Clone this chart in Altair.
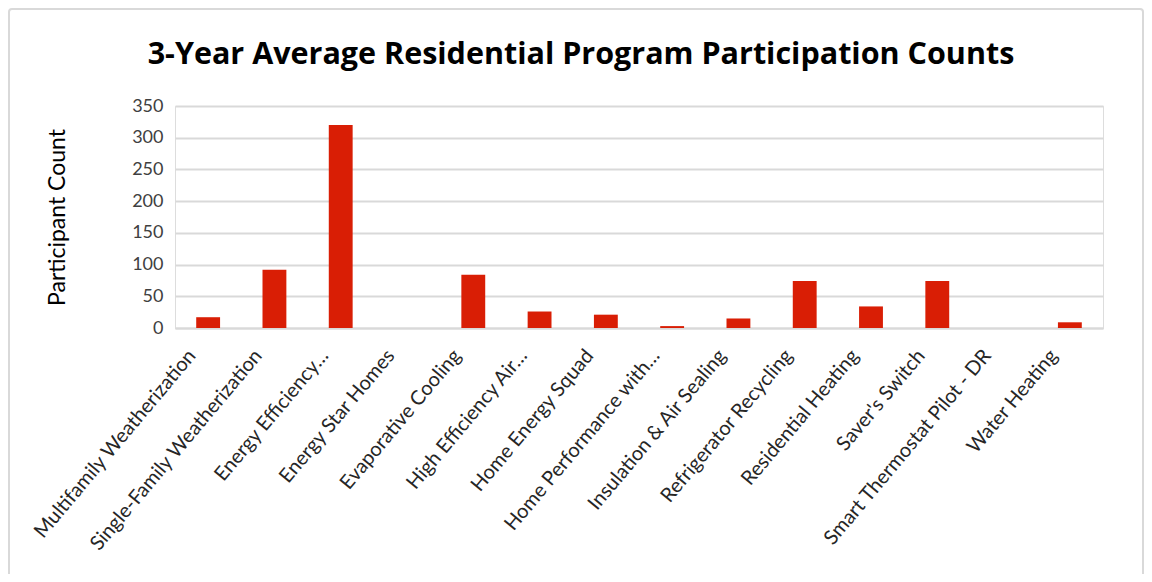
import altair as alt
import pandas as pd

programs = [
    "Multifamily Weatherization",
    "Single-Family Weatherization",
    "Energy Efficiency…",
    "Energy Star Homes",
    "Evaporative Cooling",
    "High Efficiency Air…",
    "Home Energy Squad",
    "Home Performance with…",
    "Insulation & Air Sealing",
    "Refrigerator Recycling",
    "Residential Heating",
    "Saver's Switch",
    "Smart Thermostat Pilot - DR",
    "Water Heating",
]
counts = [17, 92, 320, 0, 84, 26, 21, 3, 15, 74, 34, 74, 0, 9]
y_ticks = [0, 50, 100, 150, 200, 250, 300, 350]

df = pd.DataFrame({"program": programs, "count": counts})

FONT = "Lato"
W, H = 928, 222

bars = alt.Chart(df).mark_bar(color="#D91E05").encode(
    x=alt.X(
        "program:N",
        sort=programs,
        title=None,
        scale=alt.Scale(paddingInner=0.64, paddingOuter=0.32),
        axis=alt.Axis(
            labelAngle=-50,
            labelAlign="right",
            labelBaseline="middle",
            labelFontSize=20,
            labelColor="#262626",
            labelFont=FONT,
            labelPadding=24,
            labelOffset=-16,
            ticks=False,
            domain=True,
            domainColor="#D9D9D9",
            domainWidth=2,
            labelLimit=400,
        ),
    ),
    y=alt.Y(
        "count:Q",
        scale=alt.Scale(domain=[0, 350]),
        axis=alt.Axis(
            values=y_ticks,
            title="Participant Count",
            titleFont=FONT,
            titleFontSize=23,
            titleFontWeight="normal",
            titleColor="#000000",
            titleAngle=-90,
            titleX=-118,
            titleY=H / 2,
            titleAlign="center",
            titleBaseline="middle",
            labelFont=FONT,
            labelFontSize=18,
            labelColor="#404040",
            labelPadding=12,
            ticks=False,
            domain=False,
            grid=True,
            gridColor="#D9D9D9",
            gridWidth=2,
        ),
    ),
)

frame = alt.Chart(pd.DataFrame({"k": [0]})).mark_rect(
    fillOpacity=0, stroke="#D9D9D9", strokeWidth=2, cornerRadius=3, clip=False
).encode(
    x=alt.value(-166), x2=alt.value(968), y=alt.value(-97), y2=alt.value(480)
)

chart = alt.layer(frame, bars).properties(
    width=W,
    height=H,
    title=alt.TitleParams(
        "3-Year Average Residential Program Participation Counts",
        font="Open Sans",
        fontSize=30.5,
        fontWeight="bold",
        color="#000000",
        anchor="middle",
        frame="group",
        baseline="alphabetic",
        dx=-58,
        offset=-86,
    ),
    autosize=alt.AutoSizeParams(type="none"),
    padding={"left": 167, "top": 98, "right": 41, "bottom": 246},
).configure_view(stroke=None).configure(background="white")

chart.save("out.html", embed_options={"renderer": "svg", "actions": False})
